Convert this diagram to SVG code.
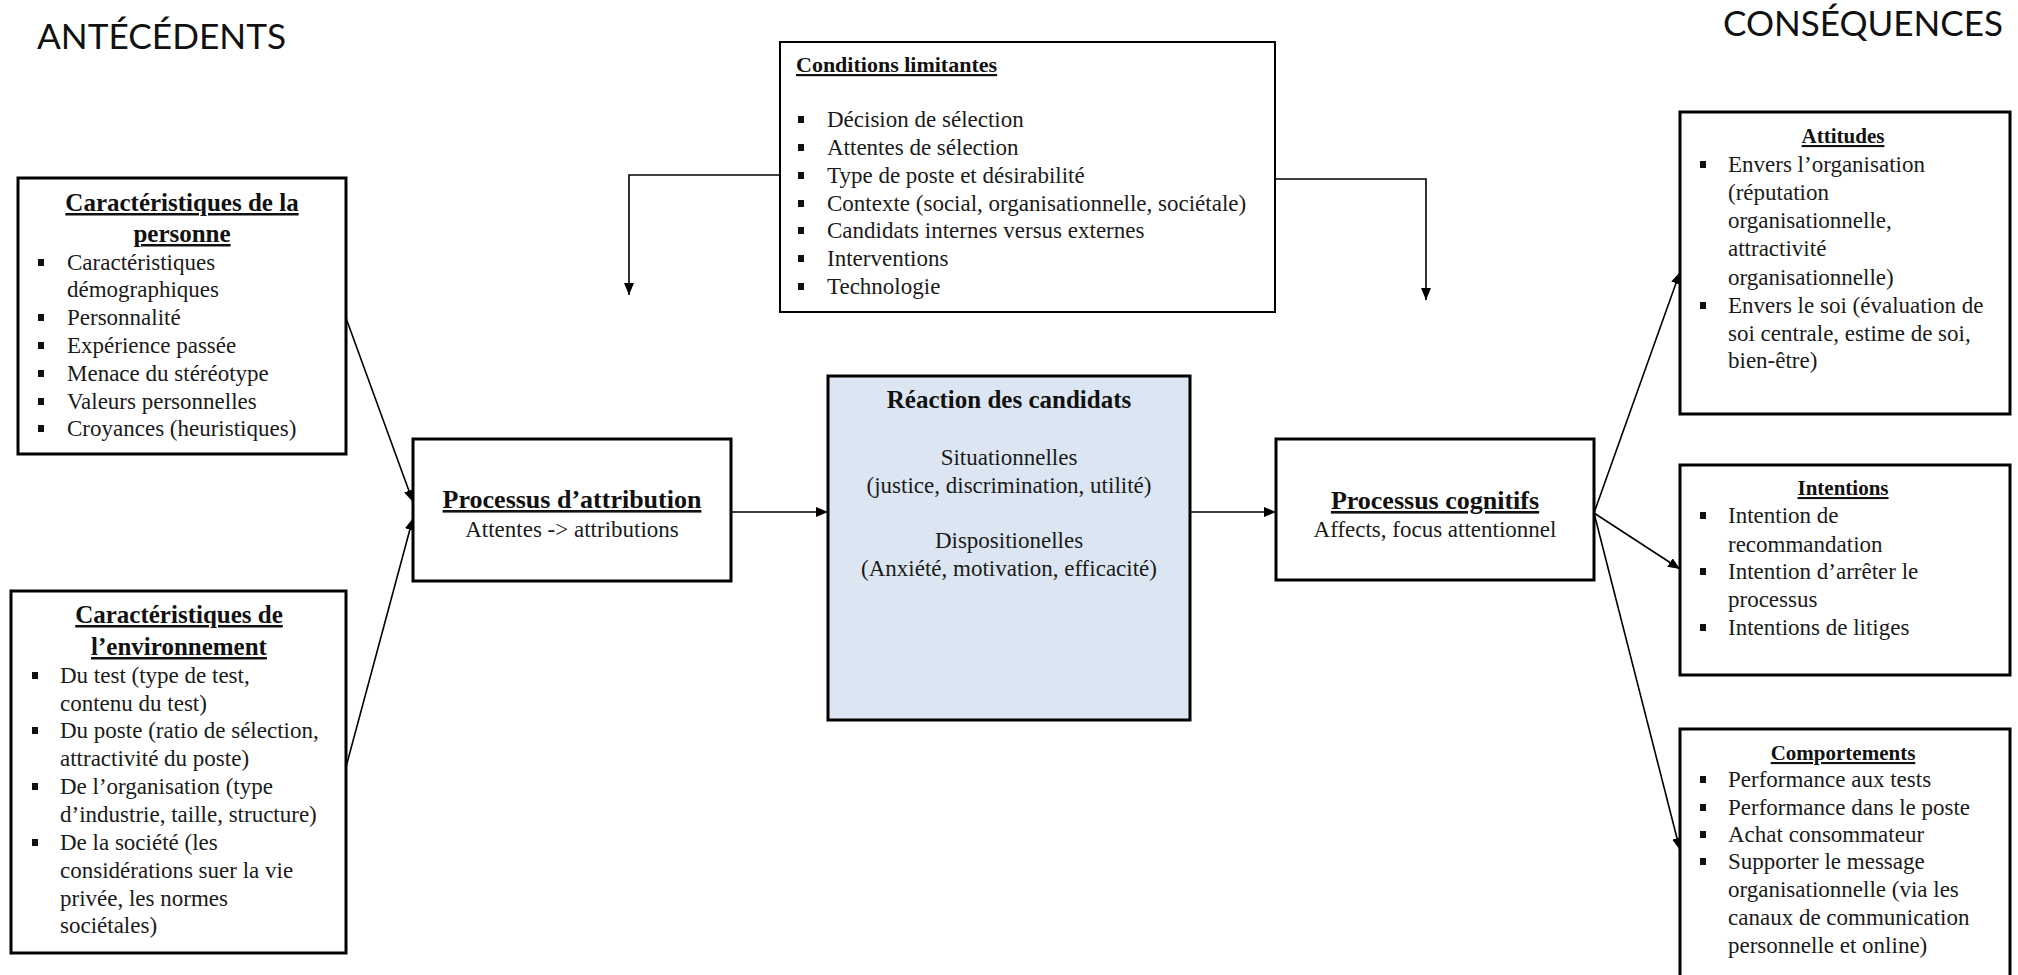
<svg xmlns="http://www.w3.org/2000/svg" width="2018" height="975" viewBox="0 0 2018 975">
<defs>
<style>
.box{fill:#fff;stroke:#000;stroke-width:3}
.thin{fill:#fff;stroke:#000;stroke-width:2}
.blue{fill:#dce6f2;stroke:#000;stroke-width:3}
.t{font-family:"Liberation Serif","Times New Roman",serif;font-size:23px;fill:#1a1a1a}
.h{font-family:"Liberation Serif","Times New Roman",serif;font-weight:bold;fill:#111;text-decoration:underline}
.nu{font-family:"Liberation Serif","Times New Roman",serif;font-weight:bold;fill:#111}
.c{text-anchor:middle}
.hdr{font-family:Lato,"Open Sans",sans-serif;font-size:35px;fill:#111}
.b{fill:#111}
.con{fill:none;stroke:#000;stroke-width:1.6}
</style>
<marker id="ah" markerUnits="userSpaceOnUse" markerWidth="12" markerHeight="10" refX="12" refY="5" orient="auto">
<path d="M0,0 L12,5 L0,10 z" fill="#000"/>
</marker>
</defs>
<rect width="2018" height="975" fill="#fff"/>

<text class="hdr" x="37" y="49" textLength="249" lengthAdjust="spacingAndGlyphs">ANTÉCÉDENTS</text>
<text class="hdr" x="1723" y="36" textLength="280" lengthAdjust="spacingAndGlyphs">CONSÉQUENCES</text>

<g id="connectors">
<line class="con" x1="346" y1="318" x2="413" y2="502" marker-end="url(#ah)"/>
<line class="con" x1="346" y1="767" x2="413" y2="518" marker-end="url(#ah)"/>
<line class="con" x1="731" y1="512" x2="828" y2="512" marker-end="url(#ah)"/>
<line class="con" x1="1190" y1="512" x2="1276" y2="512" marker-end="url(#ah)"/>
<line class="con" x1="1594" y1="513" x2="1680" y2="272" marker-end="url(#ah)"/>
<line class="con" x1="1594" y1="513" x2="1680" y2="569" marker-end="url(#ah)"/>
<line class="con" x1="1594" y1="513" x2="1680" y2="850" marker-end="url(#ah)"/>
<path class="con" d="M780,175 H629 V295" marker-end="url(#ah)"/>
<path class="con" d="M1275,179 H1426 V300" marker-end="url(#ah)"/>
</g>

<g id="personne">
<rect class="box" x="18" y="178" width="328" height="276"/>
<text class="h c" x="182" y="211" font-size="25">Caractéristiques de la</text>
<text class="h c" x="182" y="242" font-size="25">personne</text>
<rect class="b" x="38" y="259" width="6" height="7"/>
<text class="t" x="67" y="270">Caractéristiques</text>
<text class="t" x="67" y="297">démographiques</text>
<rect class="b" x="38" y="314" width="6" height="7"/>
<text class="t" x="67" y="325">Personnalité</text>
<rect class="b" x="38" y="342" width="6" height="7"/>
<text class="t" x="67" y="353">Expérience  passée</text>
<rect class="b" x="38" y="370" width="6" height="7"/>
<text class="t" x="67" y="381">Menace du stéréotype</text>
<rect class="b" x="38" y="398" width="6" height="7"/>
<text class="t" x="67" y="409">Valeurs personnelles</text>
<rect class="b" x="38" y="425" width="6" height="7"/>
<text class="t" x="67" y="436">Croyances (heuristiques)</text>
</g>

<g id="environnement">
<rect class="box" x="11" y="591" width="335" height="362"/>
<text class="h c" x="179" y="623" font-size="25">Caractéristiques de</text>
<text class="h c" x="179" y="655" font-size="25">l’environnement</text>
<rect class="b" x="32" y="672" width="6" height="7"/>
<text class="t" x="60" y="683">Du test (type de test,</text>
<text class="t" x="60" y="711">contenu du test)</text>
<rect class="b" x="32" y="727" width="6" height="7"/>
<text class="t" x="60" y="738">Du poste (ratio de sélection,</text>
<text class="t" x="60" y="766">attractivité du poste)</text>
<rect class="b" x="32" y="783" width="6" height="7"/>
<text class="t" x="60" y="794">De l’organisation (type</text>
<text class="t" x="60" y="822">d’industrie, taille,  structure)</text>
<rect class="b" x="32" y="839" width="6" height="7"/>
<text class="t" x="60" y="850">De la société (les</text>
<text class="t" x="60" y="878">considérations suer la vie</text>
<text class="t" x="60" y="906">privée, les normes</text>
<text class="t" x="60" y="933">sociétales)</text>
</g>

<g id="conditions">
<rect class="thin" x="780" y="42" width="495" height="270"/>
<text class="h" x="796" y="72" font-size="22">Conditions  limitantes</text>
<rect class="b" x="798" y="116" width="6" height="7"/>
<text class="t" x="827" y="127">Décision de sélection</text>
<rect class="b" x="798" y="144" width="6" height="7"/>
<text class="t" x="827" y="155">Attentes de sélection</text>
<rect class="b" x="798" y="172" width="6" height="7"/>
<text class="t" x="827" y="183">Type de poste et désirabilité</text>
<rect class="b" x="798" y="200" width="6" height="7"/>
<text class="t" x="827" y="211">Contexte (social, organisationnelle, sociétale)</text>
<rect class="b" x="798" y="227" width="6" height="7"/>
<text class="t" x="827" y="238">Candidats internes versus externes</text>
<rect class="b" x="798" y="255" width="6" height="7"/>
<text class="t" x="827" y="266">Interventions</text>
<rect class="b" x="798" y="283" width="6" height="7"/>
<text class="t" x="827" y="294">Technologie</text>
</g>

<g id="attribution">
<rect class="box" x="413" y="439" width="318" height="142"/>
<text class="h c" x="572" y="508" font-size="26">Processus d’attribution</text>
<text class="t c" x="572" y="537">Attentes -&gt; attributions</text>
</g>

<g id="reaction">
<rect class="blue" x="828" y="376" width="362" height="344"/>
<text class="nu c" x="1009" y="408" font-size="25">Réaction des candidats</text>
<text class="t c" x="1009" y="465">Situationnelles</text>
<text class="t c" x="1009" y="493">(justice, discrimination,  utilité)</text>
<text class="t c" x="1009" y="548">Dispositionelles</text>
<text class="t c" x="1009" y="576">(Anxiété, motivation,  efficacité)</text>
</g>

<g id="cognitifs">
<rect class="box" x="1276" y="439" width="318" height="141"/>
<text class="h c" x="1435" y="509" font-size="26">Processus cognitifs</text>
<text class="t c" x="1435" y="537">Affects, focus attentionnel</text>
</g>

<g id="attitudes">
<rect class="box" x="1680" y="112" width="330" height="302"/>
<text class="h c" x="1843" y="143" font-size="21">Attitudes</text>
<rect class="b" x="1700" y="161" width="6" height="7"/>
<text class="t" x="1728" y="172">Envers l’organisation</text>
<text class="t" x="1728" y="200">(réputation</text>
<text class="t" x="1728" y="228">organisationnelle,</text>
<text class="t" x="1728" y="256">attractivité</text>
<text class="t" x="1728" y="285">organisationnelle)</text>
<rect class="b" x="1700" y="302" width="6" height="7"/>
<text class="t" x="1728" y="313">Envers le soi (évaluation de</text>
<text class="t" x="1728" y="341">soi centrale, estime de soi,</text>
<text class="t" x="1728" y="368">bien-être)</text>
</g>

<g id="intentions">
<rect class="box" x="1680" y="465" width="330" height="210"/>
<text class="h c" x="1843" y="495" font-size="21">Intentions</text>
<rect class="b" x="1700" y="512" width="6" height="7"/>
<text class="t" x="1728" y="523">Intention de</text>
<text class="t" x="1728" y="552">recommandation</text>
<rect class="b" x="1700" y="568" width="6" height="7"/>
<text class="t" x="1728" y="579">Intention d’arrêter le</text>
<text class="t" x="1728" y="607">processus</text>
<rect class="b" x="1700" y="624" width="6" height="7"/>
<text class="t" x="1728" y="635">Intentions de litiges</text>
</g>

<g id="comportements">
<rect class="box" x="1680" y="729" width="330" height="262"/>
<text class="h c" x="1843" y="760" font-size="21">Comportements</text>
<rect class="b" x="1700" y="776" width="6" height="7"/>
<text class="t" x="1728" y="787">Performance  aux tests</text>
<rect class="b" x="1700" y="804" width="6" height="7"/>
<text class="t" x="1728" y="815">Performance  dans le poste</text>
<rect class="b" x="1700" y="831" width="6" height="7"/>
<text class="t" x="1728" y="842">Achat consommateur</text>
<rect class="b" x="1700" y="858" width="6" height="7"/>
<text class="t" x="1728" y="869">Supporter le message</text>
<text class="t" x="1728" y="897">organisationnelle (via les</text>
<text class="t" x="1728" y="925">canaux de communication</text>
<text class="t" x="1728" y="953">personnelle et online)</text>
</g>
</svg>
